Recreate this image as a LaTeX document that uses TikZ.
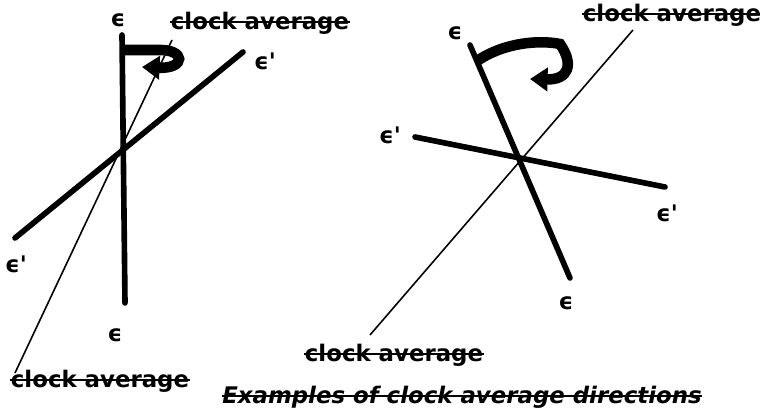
\documentclass[tikz,border=0pt]{standalone}
\usepackage{fontspec}
\setmainfont{DejaVu Sans}
\usetikzlibrary{arrows.meta}

\begin{document}
\begin{tikzpicture}[x=0.01cm,y=-0.01cm,
	axis/.style={line width=1.6pt,line cap=round},
	avg/.style={line width=0.45pt},
	turn/.style={line width=3pt,-{Triangle[length=5pt,width=6.5pt]}},
	lbl/.style={font=\fontsize{6.5}{7}\selectfont\bfseries,inner sep=0pt},
	struck/.style={lbl,append after command={\pgfextra{\draw[line width=0.45pt]
		([yshift=2.1pt]\tikzlastnode.base west)--([yshift=2.1pt]\tikzlastnode.base east);}}}]
\useasboundingbox (0,0) rectangle (760,413);
% left example
\coordinate (Le1) at (122,35);  \coordinate (Le2) at (125,303);
\coordinate (Lp1) at (243,52);  \coordinate (Lp2) at (15,238);
\coordinate (La1) at (172,40);  \coordinate (La2) at (15,373);
\draw[avg] (La1)--(La2);
\draw[axis] (Le1)--(Le2);
\draw[axis] (Lp1)--(Lp2);
\coordinate (Lt) at (123,50);
\draw[turn] (Lt)--(158,50) .. controls (186,49) and (186,69) .. (142,67);
\node[lbl] (Leps1) at (118,20) {ϵ};
\node[lbl] (Leps2) at (115,335) {ϵ};
\node[lbl] (Lpr1) at (265,61) {ϵ\textquotesingle};
\node[lbl] (Lpr2) at (16,264) {ϵ\textquotesingle};
\node[struck] (Lc1) at (260,23) {clock average};
\node[struck] (Lc2) at (100,381) {clock average};
% right example
\coordinate (Re1) at (470,45);  \coordinate (Re2) at (570,278);
\coordinate (Rp1) at (415,137); \coordinate (Rp2) at (665,187);
\coordinate (Ra1) at (633,30);  \coordinate (Ra2) at (370,335);
\draw[avg] (Ra1)--(Ra2);
\draw[axis] (Re1)--(Re2);
\draw[axis] (Rp1)--(Rp2);
\coordinate (Rt) at (477,61);
\draw[turn] (Rt) .. controls (505,42) and (540,40) .. (560,44)
	.. controls (574,64) and (569,80) .. (530,79);
\node[lbl] (Reps1) at (455,33) {ϵ};
\node[lbl] (Reps2) at (566,303) {ϵ};
\node[lbl] (Rpr1) at (390,135) {ϵ\textquotesingle};
\node[lbl] (Rpr2) at (667,213) {ϵ\textquotesingle};
\node[struck] (Rc1) at (672,15) {clock average};
\node[struck] (Rc2) at (394,355) {clock average};
% caption
\node[struck,font=\fontsize{6.5}{7}\selectfont\bfseries\itshape] (cap) at (462,397)
	{Examples of clock average directions};
\end{tikzpicture}
\end{document}
